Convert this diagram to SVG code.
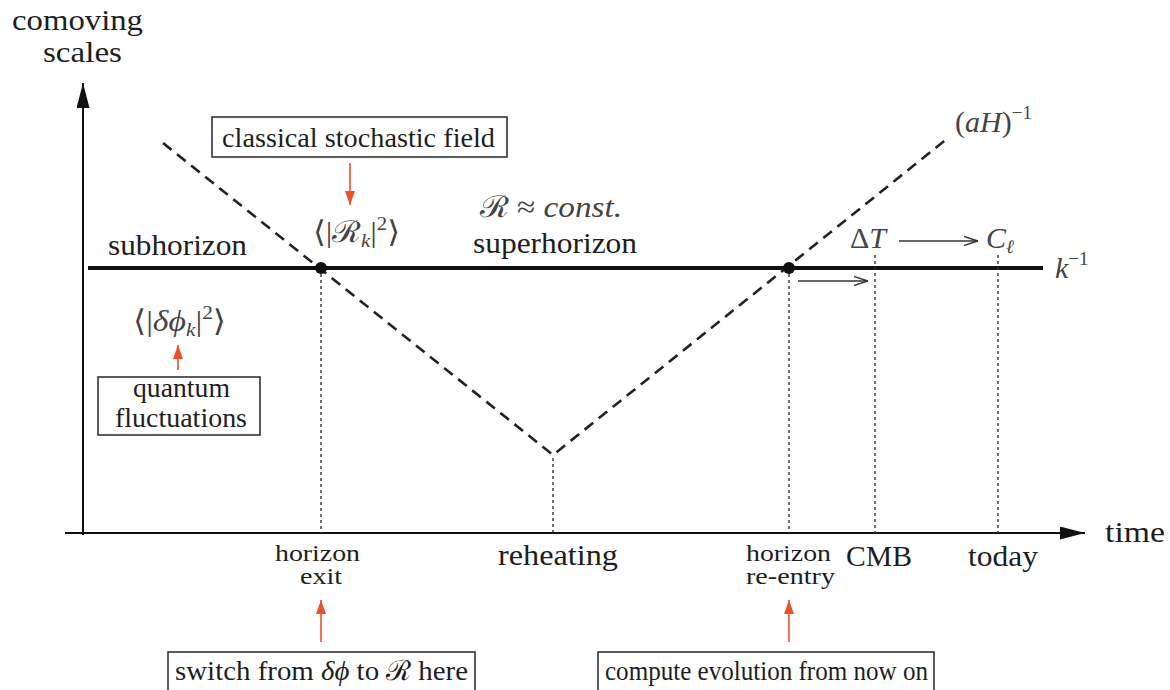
<svg xmlns="http://www.w3.org/2000/svg" width="1170" height="690" viewBox="0 0 1170 690">
<defs>
<style>
text{font-family:"Liberation Serif","DejaVu Serif",serif;fill:#1e1e1e}
.t30{font-size:30px}
.t28{font-size:28px}
.t23{font-size:23px}
.m{fill:#444;font-size:30px}
.i{font-style:italic}
.s{font-size:19px}
.box{fill:#fff;stroke:#333;stroke-width:1.6}
.dot{stroke:#333;stroke-width:1.4;stroke-dasharray:3 3;fill:none}
.red{stroke:#e8532b;stroke-width:1.6;fill:none}
</style>
<marker id="ahbig" markerWidth="25" markerHeight="13" refX="25" refY="6.5" orient="auto" markerUnits="userSpaceOnUse" viewBox="0 0 25 13"><path d="M0,0 L25,6.5 L0,13 Z" fill="#111"/></marker>
<marker id="ahred" markerWidth="14" markerHeight="11" refX="14" refY="5.5" orient="auto" markerUnits="userSpaceOnUse" viewBox="0 0 14 11"><path d="M0,0.5 L14,5.5 L0,10.5 Z" fill="#e8532b"/></marker>
<marker id="ahthin" markerWidth="14" markerHeight="10" refX="14" refY="5" orient="auto" markerUnits="userSpaceOnUse" viewBox="0 0 14 10"><path d="M0,0.5 L14,5 L0,9.5" fill="none" stroke="#333" stroke-width="1.4"/></marker>
</defs>

<g id="connectors">
<line x1="83" y1="535" x2="83" y2="83" stroke="#111" stroke-width="2" marker-end="url(#ahbig)"/>
<line x1="65" y1="533" x2="1085" y2="533" stroke="#111" stroke-width="2" marker-end="url(#ahbig)"/>
<line x1="88" y1="268" x2="1043" y2="268" stroke="#111" stroke-width="4"/>
<polyline points="163,143 553,455 948,138" fill="none" stroke="#222" stroke-width="2.6" stroke-dasharray="11 7"/>
<line class="dot" x1="321" y1="268" x2="321" y2="533"/>
<line class="dot" x1="553" y1="458" x2="553" y2="533"/>
<line class="dot" x1="789" y1="268" x2="789" y2="533"/>
<line class="dot" x1="875" y1="255" x2="875" y2="533"/>
<line class="dot" x1="998" y1="255" x2="998" y2="533"/>
<line x1="798" y1="281" x2="868" y2="281" stroke="#333" stroke-width="1.4" marker-end="url(#ahthin)"/>
<line x1="899" y1="241" x2="978" y2="241" stroke="#333" stroke-width="1.4" marker-end="url(#ahthin)"/>
<line class="red" x1="350" y1="163" x2="350" y2="205" marker-end="url(#ahred)"/>
<line class="red" x1="178" y1="370" x2="178" y2="345" marker-end="url(#ahred)"/>
<line class="red" x1="321" y1="642" x2="321" y2="600" marker-end="url(#ahred)"/>
<line class="red" x1="789" y1="642" x2="789" y2="600" marker-end="url(#ahred)"/>
</g>

<g id="points">
<circle cx="321" cy="268" r="6" fill="#111"/>
<circle cx="789" cy="268" r="6" fill="#111"/>
</g>

<g id="axis-label-y">
<text class="t30" x="12" y="30" textLength="131" lengthAdjust="spacingAndGlyphs">comoving</text>
<text class="t30" x="43" y="62" textLength="79" lengthAdjust="spacingAndGlyphs">scales</text>
</g>
<g id="axis-label-x"><text class="t30" x="1105" y="542" textLength="60" lengthAdjust="spacingAndGlyphs">time</text></g>

<g id="classical">
<rect class="box" x="212" y="117" width="295" height="40"/>
<text class="t28" x="222" y="147" textLength="273" lengthAdjust="spacingAndGlyphs">classical stochastic field</text>
</g>
<g id="Rk"><text class="m" x="313" y="242" textLength="87" lengthAdjust="spacingAndGlyphs">⟨|ℛ<tspan class="i s" dy="5">k</tspan><tspan dy="-5">|</tspan><tspan class="s" dy="-12">2</tspan><tspan dy="12">⟩</tspan></text></g>
<g id="subhorizon"><text class="t30" x="108" y="255" textLength="139" lengthAdjust="spacingAndGlyphs">subhorizon</text></g>
<g id="Rconst"><text class="m" x="480" y="217" textLength="142" lengthAdjust="spacingAndGlyphs">ℛ ≈ <tspan class="i">const.</tspan></text></g>
<g id="superhorizon"><text class="t30" x="473" y="253" textLength="164" lengthAdjust="spacingAndGlyphs">superhorizon</text></g>
<g id="aH"><text class="m" x="955" y="132" font-size="32">(<tspan class="i">aH</tspan>)<tspan class="s" font-size="21" dy="-13">−1</tspan></text></g>
<g id="dT"><text class="m" x="850" y="248" font-size="32">Δ<tspan class="i">T</tspan></text></g>
<g id="Cl"><text class="m" x="986" y="248" font-size="32"><tspan class="i">C</tspan><tspan class="i s" dy="5">ℓ</tspan></text></g>
<g id="kinv"><text class="m" x="1055" y="278" font-size="32"><tspan class="i">k</tspan><tspan class="s" font-size="21" dy="-13">−1</tspan></text></g>
<g id="dphi"><text class="m" x="133" y="331" textLength="93" lengthAdjust="spacingAndGlyphs">⟨|<tspan class="i">δϕ</tspan><tspan class="i s" dy="5">k</tspan><tspan dy="-5">|</tspan><tspan class="s" dy="-12">2</tspan><tspan dy="12">⟩</tspan></text></g>
<g id="quantum">
<rect class="box" x="98" y="377" width="162" height="58"/>
<text class="t28" x="133" y="397" textLength="97" lengthAdjust="spacingAndGlyphs">quantum</text>
<text class="t28" x="115" y="427" textLength="132" lengthAdjust="spacingAndGlyphs">fluctuations</text>
</g>
<g id="exit">
<text class="t23" x="275" y="561" textLength="85" lengthAdjust="spacingAndGlyphs">horizon</text>
<text class="t23" x="300" y="584" textLength="42" lengthAdjust="spacingAndGlyphs">exit</text>
</g>
<g id="reheating"><text class="t30" x="498" y="565" textLength="120" lengthAdjust="spacingAndGlyphs">reheating</text></g>
<g id="reentry">
<text class="t23" x="746" y="561" textLength="85" lengthAdjust="spacingAndGlyphs">horizon</text>
<text class="t23" x="746" y="584" textLength="89" lengthAdjust="spacingAndGlyphs">re-entry</text>
</g>
<g id="cmb"><text class="t30" x="846" y="566" textLength="66" lengthAdjust="spacingAndGlyphs">CMB</text></g>
<g id="today"><text class="t30" x="968" y="566" textLength="70" lengthAdjust="spacingAndGlyphs">today</text></g>
<g id="switch">
<rect class="box" x="168" y="652" width="307" height="45"/>
<text class="t28" x="175" y="680" textLength="293" lengthAdjust="spacingAndGlyphs">switch from <tspan class="i">δϕ</tspan> to ℛ here</text>
</g>
<g id="compute">
<rect class="box" x="598" y="652" width="336" height="45"/>
<text class="t28" x="605" y="680" textLength="323" lengthAdjust="spacingAndGlyphs">compute evolution from now on</text>
</g>
</svg>
